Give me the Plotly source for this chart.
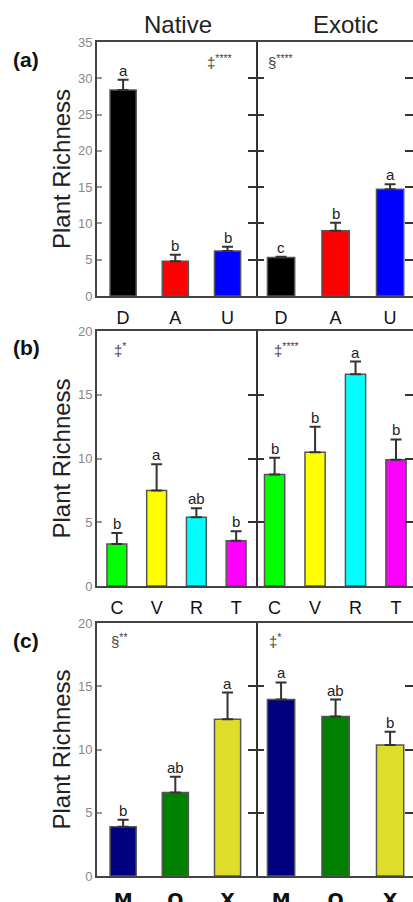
import plotly.graph_objects as go

# ---------------- data ----------------
cats_a = ["D", "A", "U"]
native_a = [28.4, 4.8, 6.2]
native_a_err = [1.4, 0.9, 0.6]
exotic_a = [5.3, 9.0, 14.7]
exotic_a_err = [0.1, 1.1, 0.7]
letters_native_a = ["a", "b", "b"]
letters_exotic_a = ["c", "b", "a"]
colors_a = ["#000000", "#ff0000", "#0000ff"]

cats_b = ["C", "V", "R", "T"]
native_b = [3.3, 7.5, 5.4, 3.55]
native_b_err = [0.85, 2.05, 0.7, 0.75]
exotic_b = [8.75, 10.5, 16.6, 9.9]
exotic_b_err = [1.3, 2.0, 1.0, 1.6]
letters_native_b = ["b", "a", "ab", "b"]
letters_exotic_b = ["b", "b", "a", "b"]
colors_b = ["#00ff00", "#ffff00", "#00ffff", "#ff00ff"]

cats_c = ["M", "O", "X"]
native_c = [3.9, 6.6, 12.4]
native_c_err = [0.55, 1.25, 2.1]
exotic_c = [13.95, 12.6, 10.35]
exotic_c_err = [1.35, 1.35, 1.05]
letters_native_c = ["b", "ab", "a"]
letters_exotic_c = ["a", "ab", "b"]
colors_c = ["#000080", "#008000", "#dede2a"]

stats = [("‡<sup>****</sup>", "§<sup>****</sup>"),
         ("‡<sup>*</sup>", "‡<sup>****</sup>"),
         ("§<sup>**</sup>", "‡<sup>*</sup>")]
panel_labels = ["(a)", "(b)", "(c)"]
y_max = [35, 20, 20]
y_dtick = 5

# ---------------- layout geometry (pixels) ----------------
W, H = 413, 902
FONT = "Liberation Sans, Arial, sans-serif"
rows_px = [(42, 296), (331, 586), (623, 876)]  # top, bottom
xL_px = (97, 256)
xR_px = (256, 413)
x_ranges = [([-0.5, 2.545], [-0.46, 2.42]),
            ([-0.5, 3.5], [-0.46, 3.42]),
            ([-0.5, 2.545], [-0.46, 2.42])]

rows = [
    (cats_a, native_a, native_a_err, exotic_a, exotic_a_err, letters_native_a, letters_exotic_a, colors_a),
    (cats_b, native_b, native_b_err, exotic_b, exotic_b_err, letters_native_b, letters_exotic_b, colors_b),
    (cats_c, native_c, native_c_err, exotic_c, exotic_c_err, letters_native_c, letters_exotic_c, colors_c),
]

fig = go.Figure()
layout = dict(template="none", width=W, height=H, margin=dict(l=0, r=0, t=0, b=0, autoexpand=False),
              paper_bgcolor="white", plot_bgcolor="white", showlegend=False,
              font=dict(family=FONT, color="#222"), bargap=0.5)
annotations = []
FRAME = "#444"

def yd(top, bot):
    return [1 - bot / H, 1 - top / H]

for r, (cats, nv, ne, ev, ee, ln, le, cols) in enumerate(rows):
    top, bot = rows_px[r]
    ydom = yd(top, bot)
    yr = [0, y_max[r]]
    xl = 2 * r + 1
    xr = 2 * r + 2
    yl = 2 * r + 1
    yrr = 2 * r + 2
    xtickfont = dict(size=18, color="#111", family=FONT)
    if r == 2:
        xtickfont = dict(size=19, color="#111", family="DejaVu Sans, Liberation Sans", weight="bold")
    for side, (xi, yi, xdom, xrng, vals, errs, lets) in enumerate([
        (xl, yl, xL_px, x_ranges[r][0], nv, ne, ln),
        (xr, yrr, xR_px, x_ranges[r][1], ev, ee, le),
    ]):
        xname = "xaxis" if xi == 1 else f"xaxis{xi}"
        yname = "yaxis" if yi == 1 else f"yaxis{yi}"
        xref = "x" if xi == 1 else f"x{xi}"
        yref = "y" if yi == 1 else f"y{yi}"
        layout[xname] = dict(domain=[xdom[0] / W, xdom[1] / W], anchor=yref, automargin=False,
                             range=xrng, type="category", showline=True, mirror=True,
                             linecolor=FRAME, linewidth=2, ticks="outside",
                             ticklen=4 if r < 2 else 6,
                             tickcolor="rgba(0,0,0,0)", tickfont=xtickfont,
                             showgrid=False, zeroline=False, fixedrange=True)
        if side == 0:
            layout[yname] = dict(domain=ydom, anchor=xref, range=yr, dtick=y_dtick, automargin=False,
                                 showline=True, linecolor=FRAME, linewidth=2,
                                 ticks="inside", ticklen=5, tickcolor="#999", tickwidth=1.5,
                                 tickfont=dict(size=13, color="#888"), showgrid=False,
                                 zeroline=False, fixedrange=True)
        else:
            layout[yname] = dict(domain=ydom, anchor=xref, range=yr, dtick=y_dtick, automargin=False,
                                 showline=False, ticks="inside", ticklen=8, mirror="ticks",
                                 tickcolor="#333", tickwidth=2, showticklabels=False,
                                 showgrid=False, zeroline=False, fixedrange=True)
        fig.add_trace(go.Bar(
            x=cats, y=vals, xaxis=xref, yaxis=yref, width=0.5,
            marker=dict(color=cols, line=dict(color="#555", width=1.5)),
            error_y=dict(type="data", array=errs, arrayminus=[0] * len(errs),
                         symmetric=False, color="#333", thickness=2, width=5.5),
            hoverinfo="skip"))
        for c, v, e, t in zip(cats, vals, errs, lets):
            annotations.append(dict(x=c, y=v + e, xref=xref, yref=yref, text=t,
                                    showarrow=False, xanchor="center", yanchor="bottom", yshift=-1,
                                    font=dict(size=15, color="#222")))
    # divider ticks (left panel, right side)
    layout[f"yaxis{13 + r}"] = dict(overlaying="y" if r == 0 else f"y{2 * r + 1}",
                                    anchor="x" if r == 0 else f"x{2 * r + 1}",
                                    side="right", range=yr, dtick=y_dtick, automargin=False,
                                    showline=True, linecolor="#333", linewidth=2,
                                    ticks="inside", ticklen=8, tickcolor="#333",
                                    tickwidth=2, showticklabels=False, showgrid=False,
                                    zeroline=False, fixedrange=True)
    # y title
    annotations.append(dict(x=61 / W, y=1 - (top + bot) / 2 / H, xref="paper", yref="paper",
                            text="Plant Richness", textangle=-90, showarrow=False,
                            xanchor="center", yanchor="middle",
                            font=dict(size=24, color="#222")))
    # panel label
    annotations.append(dict(x=11 / W, y=1 - (top + 17) / H, xref="paper", yref="paper",
                            text=f"<b>{panel_labels[r]}</b>", showarrow=False,
                            xanchor="left", yanchor="middle",
                            font=dict(size=21, color="#111")))

# statistic annotations
stat_pos = [((205, 61), (266, 61)), ((112, 350), (272, 350)), ((109, 640), (267, 640))]
for r in range(3):
    for s in range(2):
        px, py = stat_pos[r][s]
        annotations.append(dict(x=px / W, y=1 - py / H, xref="paper", yref="paper",
                                text=stats[r][s], showarrow=False, xanchor="left",
                                yanchor="middle", font=dict(size=15, color="#444")))

# column titles
annotations.append(dict(x=178 / W, y=1 - 25 / H, xref="paper", yref="paper", text="Native",
                        showarrow=False, xanchor="center", yanchor="middle",
                        font=dict(size=24, color="#222")))
annotations.append(dict(x=345 / W, y=1 - 25 / H, xref="paper", yref="paper", text="Exotic",
                        showarrow=False, xanchor="center", yanchor="middle",
                        font=dict(size=24, color="#222")))

layout["annotations"] = annotations
fig.update_layout(**layout)

# hidden dummy traces on the divider overlay axes so they render
for r in range(3):
    xa = "x" if r == 0 else f"x{2 * r + 1}"
    fig.add_trace(go.Scatter(x=[(cats_b if r == 1 else cats_a)[0]], y=[None],
                             yaxis=f"y{13 + r}", xaxis=xa, mode="markers",
                             showlegend=False, hoverinfo="skip"))

fig.write_html("out.html", config={"displayModeBar": False},
               post_script="document.body.style.margin='0';document.body.style.overflow='hidden';")
